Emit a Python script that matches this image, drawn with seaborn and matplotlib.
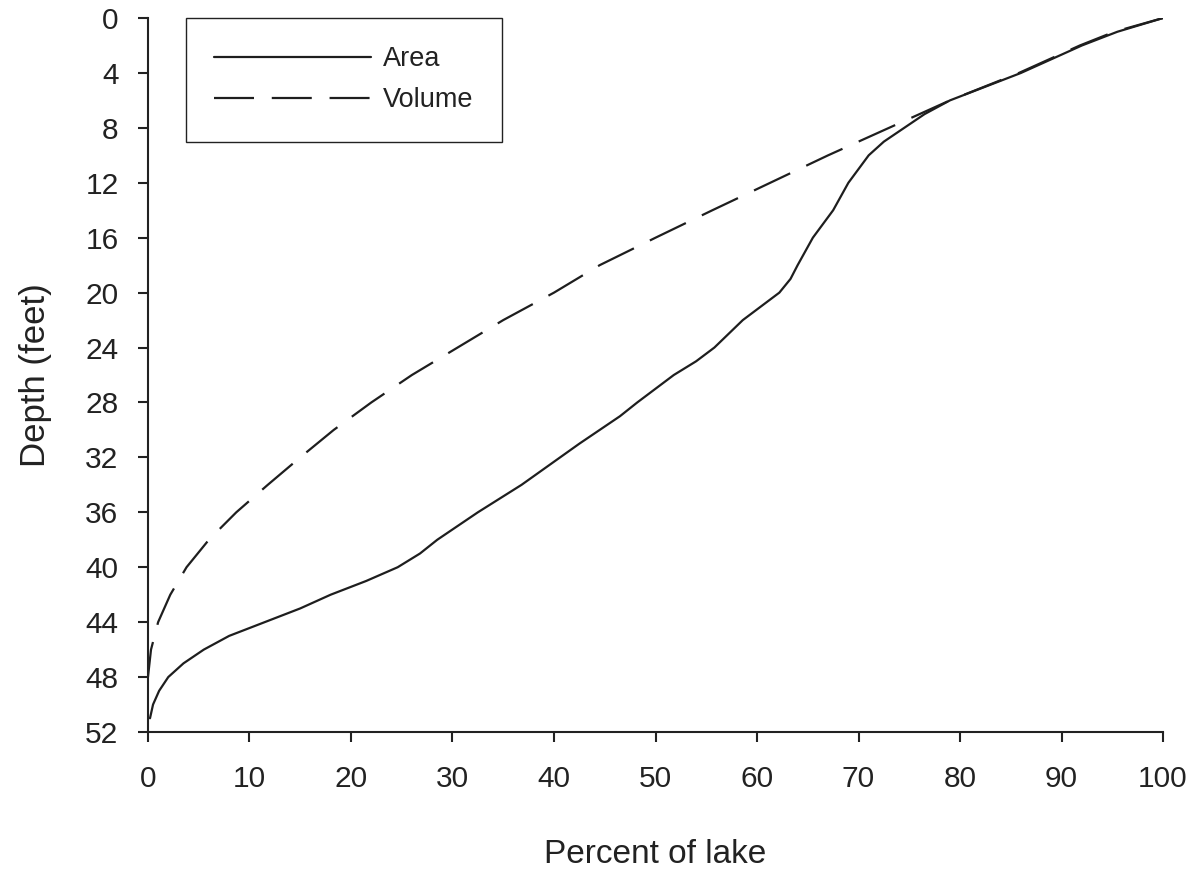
import matplotlib
matplotlib.use("Agg")
import matplotlib.pyplot as plt
import seaborn as sns
import pandas as pd

# Area curve: depth (feet) vs percent of lake
area_depth = [0, 1, 2, 3, 4, 5, 6, 7, 8, 9, 10, 11, 12, 14, 16, 18, 19, 20, 22, 24, 25, 26,
              28, 29, 30, 31, 32, 34, 36, 38, 39, 40, 41, 42, 43, 44, 45, 46, 47, 48, 49, 50, 51]
area_pct = [100, 95.5, 92, 89, 86, 82.5, 79, 76.5, 74.5, 72.5, 71, 70, 69, 67.5, 65.5, 64, 63.3,
            62.2, 58.6, 55.8, 54, 51.8, 48.2, 46.5, 44.5, 42.5, 40.6, 36.8, 32.5, 28.5, 26.8,
            24.6, 21.5, 18, 15, 11.5, 8, 5.5, 3.5, 2, 1.1, 0.5, 0.2]

# Volume curve
volume_depth = [0, 1, 2, 3, 4, 5, 6, 8, 10, 12, 14, 16, 18, 20, 22, 24, 26, 28, 30, 32, 34,
                36, 38, 40, 42, 44, 46, 48]
volume_pct = [100, 95.2, 91.8, 88.8, 85.8, 82.4, 79, 73, 67, 61.3, 55.6, 50, 44.5, 40, 35,
              30.5, 26, 22, 18.3, 15, 11.8, 8.7, 6, 3.8, 2.2, 1, 0.3, 0]

x_ticks = [0, 10, 20, 30, 40, 50, 60, 70, 80, 90, 100]
y_ticks = [0, 4, 8, 12, 16, 20, 24, 28, 32, 36, 40, 44, 48, 52]

df = pd.concat([
    pd.DataFrame({"Depth": area_depth, "Percent": area_pct, "Series": "Area"}),
    pd.DataFrame({"Depth": volume_depth, "Percent": volume_pct, "Series": "Volume"}),
], ignore_index=True)

sns.set_style("ticks")
plt.rcParams["font.family"] = ["Liberation Sans", "DejaVu Sans"]

fig = plt.figure(figsize=(12.02, 8.71), dpi=100)
ax = fig.add_axes([0.1231, 0.1596, 0.8445, 0.8197])

sns.lineplot(data=df, x="Percent", y="Depth", style="Series", sort=False, estimator=None,
             dashes={"Area": "", "Volume": (18, 8)}, color="#1e1e1e", linewidth=1.6,
             legend=False, ax=ax)

ax.set_xlim(0, 100)
ax.set_ylim(52, 0)
ax.set_xticks(x_ticks)
ax.set_yticks(y_ticks)
ax.tick_params(labelsize=21.5, length=7.2, width=1.5, color="#222222", labelcolor="#222222")
ax.tick_params(axis="x", pad=16.5)
ax.tick_params(axis="y", pad=14)
ax.set_xlabel("Percent of lake", fontsize=24, labelpad=33, color="#222222")
ax.set_ylabel("Depth (feet)", fontsize=25, labelpad=24, color="#222222")
for side in ["left", "bottom"]:
    ax.spines[side].set_linewidth(1.5)
    ax.spines[side].set_color("#222222")
sns.despine(ax=ax)

leg = ax.legend(ax.lines[:2], ["Area", "Volume"], loc="upper left",
                bbox_to_anchor=(0.037, 1.0), fontsize=19.5, handlelength=5.8,
                handletextpad=0.45, borderpad=1.05, labelspacing=0.55, borderaxespad=0,
                fancybox=False, framealpha=1)
leg.get_frame().set_edgecolor("#222222")
leg.get_frame().set_linewidth(1.0)
for t in leg.get_texts():
    t.set_color("#222222")

fig.savefig("out.png", dpi=100)
